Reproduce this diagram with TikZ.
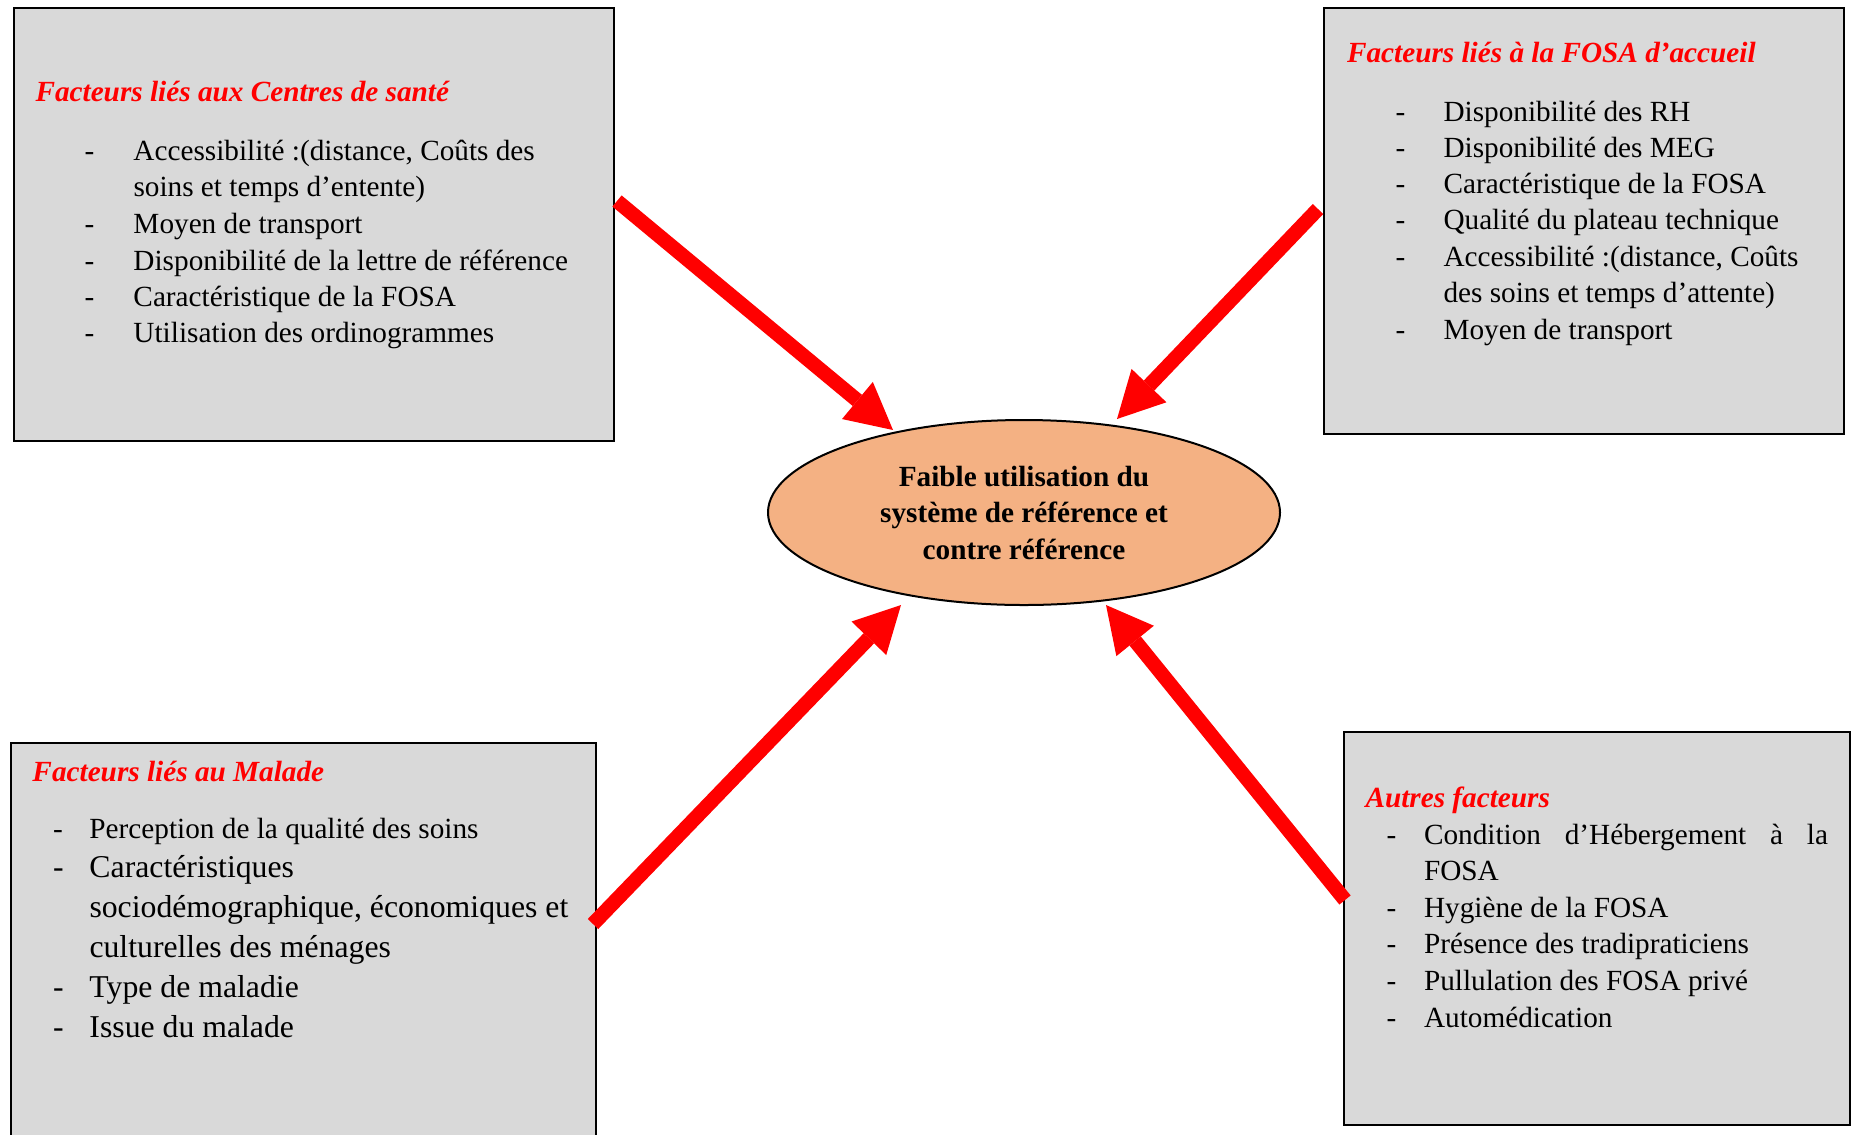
\documentclass[tikz,border=0pt]{standalone}
\usepackage{fontspec}
\setmainfont{Liberation Serif}
\usetikzlibrary{arrows.meta,shapes.geometric,fit}
\definecolor{boxgray}{HTML}{D9D9D9}
\definecolor{ellfill}{HTML}{F4B183}
\definecolor{arrred}{HTML}{FF0000}
\newcommand\bodyfont{\fontsize{11.7pt}{14pt}\selectfont}
\newcommand\bigbodyfont{\fontsize{12.7pt}{15pt}\selectfont}
\newcommand\dsh[1]{\makebox[#1][l]{-}}
\begin{document}
\begin{tikzpicture}[x=0.4pt,y=-0.4pt,
  box/.style={draw=black, line width=0.8pt, fill=boxgray, inner sep=0pt},
  ttl/.style={anchor=base west, inner sep=0pt, text=arrred, font=\bodyfont\bfseries\itshape},
  itm/.style={anchor=base west, inner sep=0pt, font=\bodyfont},
  bigitm/.style={anchor=base west, inner sep=0pt, font=\bigbodyfont},
  bigarrow/.style={color=arrred, line width=5.8pt, -{Triangle[length=18.5pt,width=19.3pt,line width=0pt]}},
]
\useasboundingbox (0,0) rectangle (1859,1134);

% boxes
\node[box, fit={(14,8)(614,441)}] (b1) {};
\node[box, fit={(1324,8)(1844,434)}] (b2) {};
\node[box, fit={(11,743)(596,1150)}] (b3) {};
\node[box, fit={(1344,732)(1850,1125)}] (b4) {};

% box 1
\node[ttl] (t1) at (35,101) {Facteurs liés aux Centres de santé};
\node[itm] (b1i1) at (84,160) {\dsh{19.6pt}Accessibilité :(distance, Coûts des};
\node[itm] (b1i1b) at (133,196) {soins et temps d’entente)};
\node[itm] (b1i2) at (84,233) {\dsh{19.6pt}Moyen de transport};
\node[itm] (b1i3) at (84,270) {\dsh{19.6pt}Disponibilité de la lettre de référence};
\node[itm] (b1i4) at (84,306) {\dsh{19.6pt}Caractéristique de la FOSA};
\node[itm] (b1i5) at (84,342) {\dsh{19.6pt}Utilisation des ordinogrammes};

% box 2
\node[ttl] (t2) at (1346.5,62) {Facteurs liés à la FOSA d’accueil};
\node[itm] (b2i1) at (1395,121) {\dsh{19.2pt}Disponibilité des RH};
\node[itm] (b2i2) at (1395,157) {\dsh{19.2pt}Disponibilité des MEG};
\node[itm] (b2i3) at (1395,193) {\dsh{19.2pt}Caractéristique de la FOSA};
\node[itm] (b2i4) at (1395,229) {\dsh{19.2pt}Qualité du plateau technique};
\node[itm] (b2i5) at (1395,266) {\dsh{19.2pt}Accessibilité :(distance, Coûts};
\node[itm] (b2i5b) at (1443,302) {des soins et temps d’attente)};
\node[itm] (b2i6) at (1395,339) {\dsh{19.2pt}Moyen de transport};

% box 3
\node[ttl] (t3) at (32,781) {Facteurs liés au Malade};
\node[itm] (b3i1) at (52.5,838) {\dsh{14.6pt}Perception de la qualité des soins};
\node[bigitm] (b3i2) at (52.5,877) {\dsh{14.6pt}Caractéristiques};
\node[bigitm] (b3i2b) at (89,917) {sociodémographique, économiques et};
\node[bigitm] (b3i2c) at (89,957) {culturelles des ménages};
\node[bigitm] (b3i3) at (52.5,997) {\dsh{14.6pt}Type de maladie};
\node[bigitm] (b3i4) at (52.5,1037) {\dsh{14.6pt}Issue du malade};

% box 4
\node[ttl] (t4) at (1365,807) {Autres facteurs};
\node[itm] (b4i1) at (1386,844) {\dsh{15pt}\makebox[161.6pt][s]{Condition d’Hébergement à la}};
\node[itm] (b4i1b) at (1423.5,880) {FOSA};
\node[itm] (b4i2) at (1386,917) {\dsh{15pt}Hygiène de la FOSA};
\node[itm] (b4i3) at (1386,953) {\dsh{15pt}Présence des tradipraticiens};
\node[itm] (b4i4) at (1386,990) {\dsh{15pt}Pullulation des FOSA privé};
\node[itm] (b4i5) at (1386,1027) {\dsh{15pt}Automédication};

% centre
\node[ellipse, draw=black, line width=0.8pt, fill=ellfill, minimum width=204.8pt, minimum height=74pt, inner sep=0pt, align=center, font=\fontsize{11.7pt}{14.6pt}\selectfont\bfseries] (c) at (1024,512.5) {Faible utilisation du\\système de référence et\\contre référence};

% arrows
\coordinate (a1s) at (617,201);
\coordinate (a1e) at (893,430);
\coordinate (a2s) at (1318,209);
\coordinate (a2e) at (1117,419);
\coordinate (a3s) at (593,924);
\coordinate (a3e) at (901,605);
\coordinate (a4s) at (1345,900);
\coordinate (a4e) at (1106,605);
\draw[bigarrow] (a1s) -- (a1e);
\draw[bigarrow] (a2s) -- (a2e);
\draw[bigarrow] (a3s) -- (a3e);
\draw[bigarrow] (a4s) -- (a4e);
\end{tikzpicture}
\end{document}
